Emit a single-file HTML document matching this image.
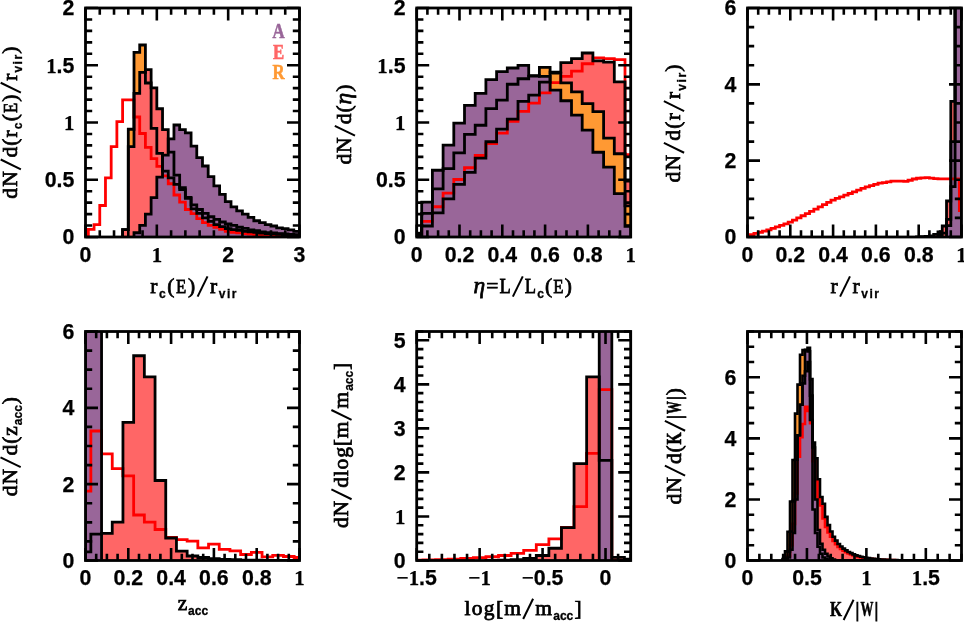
<!DOCTYPE html>
<html><head><meta charset="utf-8"><title>hist</title>
<style>html,body{margin:0;padding:0;background:#fff}svg{display:block;will-change:transform}
text{font-family:"Liberation Sans",sans-serif;fill:#000}
.num{font-family:"Liberation Sans",sans-serif;font-weight:bold;font-size:21.3px;stroke:#000;stroke-width:.25px}
.s1{font-family:"Liberation Serif",serif;font-weight:bold;font-size:20.8px}
.mn{font-family:"Liberation Serif",serif;font-weight:bold}
.ln{font-family:"Liberation Serif",serif;font-weight:normal;font-size:21.5px;stroke:#000;stroke-width:.75px}
.li{font-family:"Liberation Serif",serif;font-style:italic;font-weight:normal;font-size:21.5px;stroke:#000;stroke-width:.75px}
.lb{font-family:"Liberation Serif",serif;font-weight:bold;font-size:21.5px;stroke:#000;stroke-width:.6px}
.lsub{font-family:"Liberation Sans",sans-serif;font-weight:bold;font-size:12px;stroke:#000;stroke-width:.3px}
.sub{font-family:"Liberation Sans",sans-serif;font-weight:bold;font-size:12px}
.leg{font-family:"Liberation Serif",serif;font-weight:bold;font-size:21.5px;stroke-width:.6px}
</style></head><body>
<svg width="964" height="622" viewBox="0 0 964 622">
<rect width="964" height="622" fill="#fff"/>
<clipPath id="c00"><rect x="85.5" y="8" width="214" height="229"/></clipPath>
<path d="M122.59,237 L122.59,229.56 L128.29,229.56 L128.29,129.26 L134,129.26 L134,52.43 L139.71,52.43 L139.71,44.98 L145.41,44.98 L145.41,83 L151.12,83 L151.12,128.34 L156.83,128.34 L156.83,153.3 L162.53,153.3 L162.53,171.16 L168.24,171.16 L168.24,177.8 L173.95,177.8 L173.95,184.44 L179.65,184.44 L179.65,189.71 L185.36,189.71 L185.36,198.3 L191.07,198.3 L191.07,208.83 L196.77,208.83 L196.77,213.41 L202.48,213.41 L202.48,217.88 L208.18,217.88 L208.18,221.31 L213.89,221.31 L213.89,224.63 L219.6,224.63 L219.6,226.58 L225.3,226.58 L225.3,228.64 L231.01,228.64 L231.01,229.56 L236.72,229.56 L236.72,230.36 L242.42,230.36 L242.42,231.28 L248.13,231.28 L248.13,231.85 L253.84,231.85 L253.84,232.42 L259.54,232.42 L259.54,232.99 L265.25,232.99 L265.25,233.56 L270.95,233.56 L270.95,233.91 L276.66,233.91 L276.66,234.25 L282.37,234.25 L282.37,234.71 L288.07,234.71 L288.07,234.94 L293.78,234.94 L293.78,235.28 L299.49,235.28 L299.49,237 Z" fill="#ff9933" stroke="none" clip-path="url(#c00)"/>
<path d="M122.59,237 L122.59,229.56 L128.29,229.56 L128.29,146.66 L134,146.66 L134,93.3 L139.71,93.3 L139.71,72.46 L145.41,72.46 L145.41,69.6 L151.12,69.6 L151.12,87.81 L156.83,87.81 L156.83,108.76 L162.53,108.76 L162.53,129.6 L168.24,129.6 L168.24,152.04 L173.95,152.04 L173.95,175.17 L179.65,175.17 L179.65,187.76 L185.36,187.76 L185.36,197.5 L191.07,197.5 L191.07,204.94 L196.77,204.94 L196.77,209.52 L202.48,209.52 L202.48,213.41 L208.18,213.41 L208.18,216.73 L213.89,216.73 L213.89,219.37 L219.6,219.37 L219.6,222 L225.3,222 L225.3,223.95 L231.01,223.95 L231.01,225.32 L236.72,225.32 L236.72,227.27 L242.42,227.27 L242.42,228.3 L248.13,228.3 L248.13,229.9 L253.84,229.9 L253.84,230.59 L259.54,230.59 L259.54,231.85 L265.25,231.85 L265.25,232.53 L270.95,232.53 L270.95,232.99 L276.66,232.99 L276.66,233.56 L282.37,233.56 L282.37,234.02 L288.07,234.02 L288.07,234.48 L293.78,234.48 L293.78,234.71 L299.49,234.71 L299.49,237 Z" fill="#ff6666" stroke="none" clip-path="url(#c00)"/>
<path d="M134,237 L134,232.76 L139.71,232.76 L139.71,225.32 L145.41,225.32 L145.41,214.1 L151.12,214.1 L151.12,197.61 L156.83,197.61 L156.83,177.12 L162.53,177.12 L162.53,155.13 L168.24,155.13 L168.24,138.87 L173.95,138.87 L173.95,125.02 L179.65,125.02 L179.65,129.6 L185.36,129.6 L185.36,132.92 L191.07,132.92 L191.07,146.2 L196.77,146.2 L196.77,157.65 L202.48,157.65 L202.48,166.01 L208.18,166.01 L208.18,176.66 L213.89,176.66 L213.89,185.82 L219.6,185.82 L219.6,194.41 L225.3,194.41 L225.3,201.62 L231.01,201.62 L231.01,206.89 L236.72,206.89 L236.72,210.78 L242.42,210.78 L242.42,214.1 L248.13,214.1 L248.13,217.42 L253.84,217.42 L253.84,220.74 L259.54,220.74 L259.54,222.69 L265.25,222.69 L265.25,224.63 L270.95,224.63 L270.95,226.01 L276.66,226.01 L276.66,227.95 L282.37,227.95 L282.37,228.64 L288.07,228.64 L288.07,229.9 L293.78,229.9 L293.78,231.28 L299.49,231.28 L299.49,237 Z" fill="#996699" stroke="none" clip-path="url(#c00)"/>
<path d="M88.35,237 L88.35,229.33 L94.06,229.33 L94.06,224.63 L99.76,224.63 L99.76,205.51 L105.47,205.51 L105.47,177.8 L111.18,177.8 L111.18,146.66 L116.88,146.66 L116.88,121.7 L122.59,121.7 L122.59,99.94 L128.29,99.94 L128.29,99.94 L134,99.94 L134,117 L139.71,117 L139.71,133.49 L145.41,133.49 L145.41,147.35 L151.12,147.35 L151.12,158.57 L156.83,158.57 L156.83,166.47 L162.53,166.47 L162.53,175.86 L168.24,175.86 L168.24,183.76 L173.95,183.76 L173.95,194.98 L179.65,194.98 L179.65,202.19 L185.36,202.19 L185.36,209.52 L191.07,209.52 L191.07,213.53 L196.77,213.53 L196.77,218.68 L202.48,218.68 L202.48,222.69 L208.18,222.69 L208.18,225.32 L213.89,225.32 L213.89,227.27 L219.6,227.27 L219.6,229.33 L225.3,229.33 L225.3,231.28 L231.01,231.28 L231.01,232.31 L236.72,232.31 L236.72,232.88 L242.42,232.88 L242.42,233.56 L248.13,233.56 L248.13,234.02 L253.84,234.02 L253.84,234.71 L259.54,234.71 L259.54,235.05 L265.25,235.05 L265.25,235.4 L270.95,235.4 L270.95,235.63 L276.66,235.63 L276.66,235.85 L282.37,235.85 L282.37,235.85 L288.07,235.85 L288.07,235.85 L293.78,235.85 L293.78,235.85 L299.49,235.85 L299.49,237" fill="none" stroke="#ff0000" stroke-width="2.8" stroke-linejoin="miter" clip-path="url(#c00)"/>
<path d="M122.59,237 L122.59,229.56 L128.29,229.56 L128.29,129.26 L134,129.26 L134,52.43 L139.71,52.43 L139.71,44.98 L145.41,44.98 L145.41,83 L151.12,83 L151.12,128.34 L156.83,128.34 L156.83,153.3 L162.53,153.3 L162.53,171.16 L168.24,171.16 L168.24,177.8 L173.95,177.8 L173.95,184.44 L179.65,184.44 L179.65,189.71 L185.36,189.71 L185.36,198.3 L191.07,198.3 L191.07,208.83 L196.77,208.83 L196.77,213.41 L202.48,213.41 L202.48,217.88 L208.18,217.88 L208.18,221.31 L213.89,221.31 L213.89,224.63 L219.6,224.63 L219.6,226.58 L225.3,226.58 L225.3,228.64 L231.01,228.64 L231.01,229.56 L236.72,229.56 L236.72,230.36 L242.42,230.36 L242.42,231.28 L248.13,231.28 L248.13,231.85 L253.84,231.85 L253.84,232.42 L259.54,232.42 L259.54,232.99 L265.25,232.99 L265.25,233.56 L270.95,233.56 L270.95,233.91 L276.66,233.91 L276.66,234.25 L282.37,234.25 L282.37,234.71 L288.07,234.71 L288.07,234.94 L293.78,234.94 L293.78,235.28 L299.49,235.28 L299.49,237" fill="none" stroke="#000" stroke-width="2.8" stroke-linejoin="miter" clip-path="url(#c00)"/>
<path d="M122.59,237 L122.59,229.56 L128.29,229.56 L128.29,146.66 L134,146.66 L134,93.3 L139.71,93.3 L139.71,72.46 L145.41,72.46 L145.41,69.6 L151.12,69.6 L151.12,87.81 L156.83,87.81 L156.83,108.76 L162.53,108.76 L162.53,129.6 L168.24,129.6 L168.24,152.04 L173.95,152.04 L173.95,175.17 L179.65,175.17 L179.65,187.76 L185.36,187.76 L185.36,197.5 L191.07,197.5 L191.07,204.94 L196.77,204.94 L196.77,209.52 L202.48,209.52 L202.48,213.41 L208.18,213.41 L208.18,216.73 L213.89,216.73 L213.89,219.37 L219.6,219.37 L219.6,222 L225.3,222 L225.3,223.95 L231.01,223.95 L231.01,225.32 L236.72,225.32 L236.72,227.27 L242.42,227.27 L242.42,228.3 L248.13,228.3 L248.13,229.9 L253.84,229.9 L253.84,230.59 L259.54,230.59 L259.54,231.85 L265.25,231.85 L265.25,232.53 L270.95,232.53 L270.95,232.99 L276.66,232.99 L276.66,233.56 L282.37,233.56 L282.37,234.02 L288.07,234.02 L288.07,234.48 L293.78,234.48 L293.78,234.71 L299.49,234.71 L299.49,237" fill="none" stroke="#000" stroke-width="2.8" stroke-linejoin="miter" clip-path="url(#c00)"/>
<path d="M134,237 L134,232.76 L139.71,232.76 L139.71,225.32 L145.41,225.32 L145.41,214.1 L151.12,214.1 L151.12,197.61 L156.83,197.61 L156.83,177.12 L162.53,177.12 L162.53,155.13 L168.24,155.13 L168.24,138.87 L173.95,138.87 L173.95,125.02 L179.65,125.02 L179.65,129.6 L185.36,129.6 L185.36,132.92 L191.07,132.92 L191.07,146.2 L196.77,146.2 L196.77,157.65 L202.48,157.65 L202.48,166.01 L208.18,166.01 L208.18,176.66 L213.89,176.66 L213.89,185.82 L219.6,185.82 L219.6,194.41 L225.3,194.41 L225.3,201.62 L231.01,201.62 L231.01,206.89 L236.72,206.89 L236.72,210.78 L242.42,210.78 L242.42,214.1 L248.13,214.1 L248.13,217.42 L253.84,217.42 L253.84,220.74 L259.54,220.74 L259.54,222.69 L265.25,222.69 L265.25,224.63 L270.95,224.63 L270.95,226.01 L276.66,226.01 L276.66,227.95 L282.37,227.95 L282.37,228.64 L288.07,228.64 L288.07,229.9 L293.78,229.9 L293.78,231.28 L299.49,231.28 L299.49,237" fill="none" stroke="#000" stroke-width="2.8" stroke-linejoin="miter" clip-path="url(#c00)"/>
<path d="M85.5,237 v-6.7 M85.5,8 v6.7 M99.77,237 v-6.7 M99.77,8 v6.7 M114.03,237 v-6.7 M114.03,8 v6.7 M128.3,237 v-6.7 M128.3,8 v6.7 M142.57,237 v-6.7 M142.57,8 v6.7 M156.83,237 v-6.7 M156.83,8 v6.7 M171.1,237 v-6.7 M171.1,8 v6.7 M185.37,237 v-6.7 M185.37,8 v6.7 M199.63,237 v-6.7 M199.63,8 v6.7 M213.9,237 v-6.7 M213.9,8 v6.7 M228.17,237 v-6.7 M228.17,8 v6.7 M242.43,237 v-6.7 M242.43,8 v6.7 M256.7,237 v-6.7 M256.7,8 v6.7 M270.97,237 v-6.7 M270.97,8 v6.7 M285.23,237 v-6.7 M285.23,8 v6.7 M299.5,237 v-6.7 M299.5,8 v6.7 M85.5,237 v-12.5 M85.5,8 v12.5 M156.83,237 v-12.5 M156.83,8 v12.5 M228.17,237 v-12.5 M228.17,8 v12.5 M299.5,237 v-12.5 M299.5,8 v12.5 M85.5,237 h6.7 M299.5,237 h-6.7 M85.5,225.55 h6.7 M299.5,225.55 h-6.7 M85.5,214.1 h6.7 M299.5,214.1 h-6.7 M85.5,202.65 h6.7 M299.5,202.65 h-6.7 M85.5,191.2 h6.7 M299.5,191.2 h-6.7 M85.5,179.75 h6.7 M299.5,179.75 h-6.7 M85.5,168.3 h6.7 M299.5,168.3 h-6.7 M85.5,156.85 h6.7 M299.5,156.85 h-6.7 M85.5,145.4 h6.7 M299.5,145.4 h-6.7 M85.5,133.95 h6.7 M299.5,133.95 h-6.7 M85.5,122.5 h6.7 M299.5,122.5 h-6.7 M85.5,111.05 h6.7 M299.5,111.05 h-6.7 M85.5,99.6 h6.7 M299.5,99.6 h-6.7 M85.5,88.15 h6.7 M299.5,88.15 h-6.7 M85.5,76.7 h6.7 M299.5,76.7 h-6.7 M85.5,65.25 h6.7 M299.5,65.25 h-6.7 M85.5,53.8 h6.7 M299.5,53.8 h-6.7 M85.5,42.35 h6.7 M299.5,42.35 h-6.7 M85.5,30.9 h6.7 M299.5,30.9 h-6.7 M85.5,19.45 h6.7 M299.5,19.45 h-6.7 M85.5,8 h6.7 M299.5,8 h-6.7 M85.5,237 h12.5 M299.5,237 h-12.5 M85.5,179.75 h12.5 M299.5,179.75 h-12.5 M85.5,122.5 h12.5 M299.5,122.5 h-12.5 M85.5,65.25 h12.5 M299.5,65.25 h-12.5 M85.5,8 h12.5 M299.5,8 h-12.5" stroke="#000" stroke-width="2.6" fill="none"/>
<rect x="85.5" y="8" width="214" height="229" fill="none" stroke="#000" stroke-width="2.8"/>
<text x="85.5" y="261.8" text-anchor="middle" class="num">0</text>
<text x="156.83" y="261.8" text-anchor="middle" class="num"><tspan class="s1">1</tspan></text>
<text x="228.17" y="261.8" text-anchor="middle" class="num">2</text>
<text x="299.5" y="261.8" text-anchor="middle" class="num">3</text>
<text x="74.3" y="244.4" text-anchor="end" class="num">0</text>
<text x="74.3" y="187.15" text-anchor="end" class="num">0.5</text>
<text x="74.3" y="129.9" text-anchor="end" class="num"><tspan class="s1">1</tspan></text>
<text x="74.3" y="72.65" text-anchor="end" class="num"><tspan class="s1">1</tspan>.5</text>
<text x="74.3" y="15.4" text-anchor="end" class="num">2</text>
<clipPath id="c10"><rect x="416.7" y="8" width="214" height="229"/></clipPath>
<path d="M421.7,237 L421.7,226.01 L432.4,226.01 L432.4,212.84 L443.1,212.84 L443.1,198.87 L453.8,198.87 L453.8,184.44 L464.5,184.44 L464.5,172.31 L475.2,172.31 L475.2,158.22 L485.9,158.22 L485.9,141.74 L496.6,141.74 L496.6,129.14 L507.3,129.14 L507.3,119.18 L518,119.18 L518,101.32 L528.7,101.32 L528.7,95.13 L539.4,95.13 L539.4,82.2 L550.1,82.2 L550.1,72.12 L560.8,72.12 L560.8,62.62 L571.5,62.62 L571.5,58.61 L582.2,58.61 L582.2,53 L592.9,53 L592.9,60.78 L603.6,60.78 L603.6,62.16 L614.3,62.16 L614.3,81.97 L625,81.97 L625,181.01 L635.7,181.01 L635.7,237 Z" fill="#ff6666" stroke="none" clip-path="url(#c10)"/>
<path d="M421.7,237 L421.7,213.41 L432.4,213.41 L432.4,188.91 L443.1,188.91 L443.1,168.53 L453.8,168.53 L453.8,152.84 L464.5,152.84 L464.5,134.41 L475.2,134.41 L475.2,125.25 L485.9,125.25 L485.9,108.65 L496.6,108.65 L496.6,100.06 L507.3,100.06 L507.3,84.26 L518,84.26 L518,78.76 L528.7,78.76 L528.7,76.13 L539.4,76.13 L539.4,67.43 L550.1,67.43 L550.1,73.15 L560.8,73.15 L560.8,82.88 L571.5,82.88 L571.5,91.81 L582.2,91.81 L582.2,103.72 L592.9,103.72 L592.9,111.62 L603.6,111.62 L603.6,138.07 L614.3,138.07 L614.3,153.76 L625,153.76 L625,205.86 L635.7,205.86 L635.7,237 Z" fill="#ff9933" stroke="none" clip-path="url(#c10)"/>
<path d="M421.7,237 L421.7,202.19 L432.4,202.19 L432.4,170.25 L443.1,170.25 L443.1,145.06 L453.8,145.06 L453.8,123.19 L464.5,123.19 L464.5,105.33 L475.2,105.33 L475.2,93.42 L485.9,93.42 L485.9,79.56 L496.6,79.56 L496.6,71.66 L507.3,71.66 L507.3,68 L518,68 L518,65.36 L528.7,65.36 L528.7,75.67 L539.4,75.67 L539.4,76.47 L550.1,76.47 L550.1,90.21 L560.8,90.21 L560.8,100.75 L571.5,100.75 L571.5,115.06 L582.2,115.06 L582.2,130.17 L592.9,130.17 L592.9,152.27 L603.6,152.27 L603.6,167.04 L614.3,167.04 L614.3,193.6 L625,193.6 L625,226.24 L635.7,226.24 L635.7,237 Z" fill="#996699" stroke="none" clip-path="url(#c10)"/>
<path d="M421.7,237 L421.7,221.31 L432.4,221.31 L432.4,206.77 L443.1,206.77 L443.1,193.03 L453.8,193.03 L453.8,179.52 L464.5,179.52 L464.5,167.73 L475.2,167.73 L475.2,155.48 L485.9,155.48 L485.9,143.57 L496.6,143.57 L496.6,133.15 L507.3,133.15 L507.3,121.24 L518,121.24 L518,111.28 L528.7,111.28 L528.7,103.03 L539.4,103.03 L539.4,92.84 L550.1,92.84 L550.1,82.65 L560.8,82.65 L560.8,76.47 L571.5,76.47 L571.5,71.2 L582.2,71.2 L582.2,63.76 L592.9,63.76 L592.9,57.81 L603.6,57.81 L603.6,58.72 L614.3,58.72 L614.3,59.53 L625,59.53 L625,154.56 L635.7,154.56 L635.7,237" fill="none" stroke="#ff0000" stroke-width="2.8" stroke-linejoin="miter" clip-path="url(#c10)"/>
<path d="M421.7,237 L421.7,226.01 L432.4,226.01 L432.4,212.84 L443.1,212.84 L443.1,198.87 L453.8,198.87 L453.8,184.44 L464.5,184.44 L464.5,172.31 L475.2,172.31 L475.2,158.22 L485.9,158.22 L485.9,141.74 L496.6,141.74 L496.6,129.14 L507.3,129.14 L507.3,119.18 L518,119.18 L518,101.32 L528.7,101.32 L528.7,95.13 L539.4,95.13 L539.4,82.2 L550.1,82.2 L550.1,72.12 L560.8,72.12 L560.8,62.62 L571.5,62.62 L571.5,58.61 L582.2,58.61 L582.2,53 L592.9,53 L592.9,60.78 L603.6,60.78 L603.6,62.16 L614.3,62.16 L614.3,81.97 L625,81.97 L625,181.01 L635.7,181.01 L635.7,237" fill="none" stroke="#000" stroke-width="2.8" stroke-linejoin="miter" clip-path="url(#c10)"/>
<path d="M421.7,237 L421.7,213.41 L432.4,213.41 L432.4,188.91 L443.1,188.91 L443.1,168.53 L453.8,168.53 L453.8,152.84 L464.5,152.84 L464.5,134.41 L475.2,134.41 L475.2,125.25 L485.9,125.25 L485.9,108.65 L496.6,108.65 L496.6,100.06 L507.3,100.06 L507.3,84.26 L518,84.26 L518,78.76 L528.7,78.76 L528.7,76.13 L539.4,76.13 L539.4,67.43 L550.1,67.43 L550.1,73.15 L560.8,73.15 L560.8,82.88 L571.5,82.88 L571.5,91.81 L582.2,91.81 L582.2,103.72 L592.9,103.72 L592.9,111.62 L603.6,111.62 L603.6,138.07 L614.3,138.07 L614.3,153.76 L625,153.76 L625,205.86 L635.7,205.86 L635.7,237" fill="none" stroke="#000" stroke-width="2.8" stroke-linejoin="miter" clip-path="url(#c10)"/>
<path d="M421.7,237 L421.7,202.19 L432.4,202.19 L432.4,170.25 L443.1,170.25 L443.1,145.06 L453.8,145.06 L453.8,123.19 L464.5,123.19 L464.5,105.33 L475.2,105.33 L475.2,93.42 L485.9,93.42 L485.9,79.56 L496.6,79.56 L496.6,71.66 L507.3,71.66 L507.3,68 L518,68 L518,65.36 L528.7,65.36 L528.7,75.67 L539.4,75.67 L539.4,76.47 L550.1,76.47 L550.1,90.21 L560.8,90.21 L560.8,100.75 L571.5,100.75 L571.5,115.06 L582.2,115.06 L582.2,130.17 L592.9,130.17 L592.9,152.27 L603.6,152.27 L603.6,167.04 L614.3,167.04 L614.3,193.6 L625,193.6 L625,226.24 L635.7,226.24 L635.7,237" fill="none" stroke="#000" stroke-width="2.8" stroke-linejoin="miter" clip-path="url(#c10)"/>
<rect x="417.5" y="231.8" width="4.2" height="5" fill="#000"/>
<path d="M416.7,237 v-6.7 M416.7,8 v6.7 M427.4,237 v-6.7 M427.4,8 v6.7 M438.1,237 v-6.7 M438.1,8 v6.7 M448.8,237 v-6.7 M448.8,8 v6.7 M459.5,237 v-6.7 M459.5,8 v6.7 M470.2,237 v-6.7 M470.2,8 v6.7 M480.9,237 v-6.7 M480.9,8 v6.7 M491.6,237 v-6.7 M491.6,8 v6.7 M502.3,237 v-6.7 M502.3,8 v6.7 M513,237 v-6.7 M513,8 v6.7 M523.7,237 v-6.7 M523.7,8 v6.7 M534.4,237 v-6.7 M534.4,8 v6.7 M545.1,237 v-6.7 M545.1,8 v6.7 M555.8,237 v-6.7 M555.8,8 v6.7 M566.5,237 v-6.7 M566.5,8 v6.7 M577.2,237 v-6.7 M577.2,8 v6.7 M587.9,237 v-6.7 M587.9,8 v6.7 M598.6,237 v-6.7 M598.6,8 v6.7 M609.3,237 v-6.7 M609.3,8 v6.7 M620,237 v-6.7 M620,8 v6.7 M630.7,237 v-6.7 M630.7,8 v6.7 M416.7,237 v-12.5 M416.7,8 v12.5 M459.5,237 v-12.5 M459.5,8 v12.5 M502.3,237 v-12.5 M502.3,8 v12.5 M545.1,237 v-12.5 M545.1,8 v12.5 M587.9,237 v-12.5 M587.9,8 v12.5 M630.7,237 v-12.5 M630.7,8 v12.5 M416.7,237 h6.7 M630.7,237 h-6.7 M416.7,225.55 h6.7 M630.7,225.55 h-6.7 M416.7,214.1 h6.7 M630.7,214.1 h-6.7 M416.7,202.65 h6.7 M630.7,202.65 h-6.7 M416.7,191.2 h6.7 M630.7,191.2 h-6.7 M416.7,179.75 h6.7 M630.7,179.75 h-6.7 M416.7,168.3 h6.7 M630.7,168.3 h-6.7 M416.7,156.85 h6.7 M630.7,156.85 h-6.7 M416.7,145.4 h6.7 M630.7,145.4 h-6.7 M416.7,133.95 h6.7 M630.7,133.95 h-6.7 M416.7,122.5 h6.7 M630.7,122.5 h-6.7 M416.7,111.05 h6.7 M630.7,111.05 h-6.7 M416.7,99.6 h6.7 M630.7,99.6 h-6.7 M416.7,88.15 h6.7 M630.7,88.15 h-6.7 M416.7,76.7 h6.7 M630.7,76.7 h-6.7 M416.7,65.25 h6.7 M630.7,65.25 h-6.7 M416.7,53.8 h6.7 M630.7,53.8 h-6.7 M416.7,42.35 h6.7 M630.7,42.35 h-6.7 M416.7,30.9 h6.7 M630.7,30.9 h-6.7 M416.7,19.45 h6.7 M630.7,19.45 h-6.7 M416.7,8 h6.7 M630.7,8 h-6.7 M416.7,237 h12.5 M630.7,237 h-12.5 M416.7,179.75 h12.5 M630.7,179.75 h-12.5 M416.7,122.5 h12.5 M630.7,122.5 h-12.5 M416.7,65.25 h12.5 M630.7,65.25 h-12.5 M416.7,8 h12.5 M630.7,8 h-12.5" stroke="#000" stroke-width="2.6" fill="none"/>
<rect x="416.7" y="8" width="214" height="229" fill="none" stroke="#000" stroke-width="2.8"/>
<text x="416.7" y="261.8" text-anchor="middle" class="num">0</text>
<text x="459.5" y="261.8" text-anchor="middle" class="num">0.2</text>
<text x="502.3" y="261.8" text-anchor="middle" class="num">0.4</text>
<text x="545.1" y="261.8" text-anchor="middle" class="num">0.6</text>
<text x="587.9" y="261.8" text-anchor="middle" class="num">0.8</text>
<text x="630.7" y="261.8" text-anchor="middle" class="num"><tspan class="s1">1</tspan></text>
<text x="405.5" y="244.4" text-anchor="end" class="num">0</text>
<text x="405.5" y="187.15" text-anchor="end" class="num">0.5</text>
<text x="405.5" y="129.9" text-anchor="end" class="num"><tspan class="s1">1</tspan></text>
<text x="405.5" y="72.65" text-anchor="end" class="num"><tspan class="s1">1</tspan>.5</text>
<text x="405.5" y="15.4" text-anchor="end" class="num">2</text>
<clipPath id="c20"><rect x="747.5" y="8" width="214" height="229"/></clipPath>
<path d="M916.56,237 L916.56,236.85 L920.84,236.85 L920.84,236.69 L925.12,236.69 L925.12,236.43 L929.4,236.43 L929.4,235.85 L933.68,235.85 L933.68,234.33 L937.96,234.33 L937.96,231.81 L942.24,231.81 L942.24,226.01 L946.52,226.01 L946.52,201.01 L950.8,201.01 L950.8,101.32 L955.08,101.32 L955.08,-68.33 L959.36,-68.33 L959.36,-68.33 L961.5,-68.33 L961.5,237 Z" fill="#ff6666" stroke="none" clip-path="url(#c20)"/>
<path d="M946.52,237 L946.52,225.55 L950.8,225.55 L950.8,141.58 L955.08,141.58 L955.08,-68.33 L959.36,-68.33 L959.36,-68.33 L961.5,-68.33 L961.5,237 Z" fill="#996699" stroke="none" clip-path="url(#c20)"/>
<path d="M747.5,237 L747.5,235.56 L749.64,235.56 L749.64,234.66 L753.92,234.66 L753.92,233.47 L758.2,233.47 L758.2,232.27 L762.48,232.27 L762.48,231.08 L766.76,231.08 L766.76,229.88 L771.04,229.88 L771.04,228.37 L775.32,228.37 L775.32,226.85 L779.6,226.85 L779.6,225.32 L783.88,225.32 L783.88,223.79 L788.16,223.79 L788.16,222.21 L792.44,222.21 L792.44,220.06 L796.72,220.06 L796.72,217.91 L801,217.91 L801,215.77 L805.28,215.77 L805.28,213.62 L809.56,213.62 L809.56,211.43 L813.84,211.43 L813.84,209.16 L818.12,209.16 L818.12,206.88 L822.4,206.88 L822.4,204.61 L826.68,204.61 L826.68,202.33 L830.96,202.33 L830.96,200.12 L835.24,200.12 L835.24,198.47 L839.52,198.47 L839.52,196.82 L843.8,196.82 L843.8,195.17 L848.08,195.17 L848.08,193.52 L852.36,193.52 L852.36,191.8 L856.64,191.8 L856.64,190.09 L860.92,190.09 L860.92,188.37 L865.2,188.37 L865.2,186.93 L869.48,186.93 L869.48,185.65 L873.76,185.65 L873.76,184.38 L878.04,184.38 L878.04,183.2 L882.32,183.2 L882.32,182.54 L886.6,182.54 L886.6,181.87 L890.88,181.87 L890.88,181.21 L895.16,181.21 L895.16,181.09 L899.44,181.09 L899.44,181.19 L903.72,181.19 L903.72,181.3 L908,181.3 L908,180.23 L912.28,180.23 L912.28,179.02 L916.56,179.02 L916.56,178.26 L920.84,178.26 L920.84,177.94 L925.12,177.94 L925.12,177.69 L929.4,177.69 L929.4,178.12 L933.68,178.12 L933.68,178.54 L937.96,178.54 L937.96,178.84 L942.24,178.84 L942.24,178.88 L946.52,178.88 L946.52,178.91 L950.8,178.91 L950.8,178.94 L955.08,178.94 L955.08,178.97 L959.36,178.97 L959.36,210.66 L961.5,210.66 L961.5,237" fill="none" stroke="#ff0000" stroke-width="2.8" stroke-linejoin="miter" clip-path="url(#c20)"/>
<path d="M916.56,237 L916.56,236.85 L920.84,236.85 L920.84,236.69 L925.12,236.69 L925.12,236.43 L929.4,236.43 L929.4,235.85 L933.68,235.85 L933.68,234.33 L937.96,234.33 L937.96,231.81 L942.24,231.81 L942.24,226.01 L946.52,226.01 L946.52,201.01 L950.8,201.01 L950.8,101.32 L955.08,101.32 L955.08,-68.33 L959.36,-68.33 L959.36,-68.33 L961.5,-68.33 L961.5,237" fill="none" stroke="#000" stroke-width="2.8" stroke-linejoin="miter" clip-path="url(#c20)"/>
<path d="M937.96,237 L937.96,236.24 L942.24,236.24 L942.24,233.18 L946.52,233.18 L946.52,219.44 L950.8,219.44 L950.8,186.7 L955.08,186.7 L955.08,-68.33 L959.36,-68.33 L959.36,-68.33 L961.5,-68.33 L961.5,237" fill="none" stroke="#000" stroke-width="2.8" stroke-linejoin="miter" clip-path="url(#c20)"/>
<path d="M946.52,237 L946.52,225.55 L950.8,225.55 L950.8,141.58 L955.08,141.58 L955.08,-68.33 L959.36,-68.33 L959.36,-68.33 L961.5,-68.33 L961.5,237" fill="none" stroke="#000" stroke-width="2.8" stroke-linejoin="miter" clip-path="url(#c20)"/>
<path d="M747.5,237 v-6.7 M747.5,8 v6.7 M758.2,237 v-6.7 M758.2,8 v6.7 M768.9,237 v-6.7 M768.9,8 v6.7 M779.6,237 v-6.7 M779.6,8 v6.7 M790.3,237 v-6.7 M790.3,8 v6.7 M801,237 v-6.7 M801,8 v6.7 M811.7,237 v-6.7 M811.7,8 v6.7 M822.4,237 v-6.7 M822.4,8 v6.7 M833.1,237 v-6.7 M833.1,8 v6.7 M843.8,237 v-6.7 M843.8,8 v6.7 M854.5,237 v-6.7 M854.5,8 v6.7 M865.2,237 v-6.7 M865.2,8 v6.7 M875.9,237 v-6.7 M875.9,8 v6.7 M886.6,237 v-6.7 M886.6,8 v6.7 M897.3,237 v-6.7 M897.3,8 v6.7 M908,237 v-6.7 M908,8 v6.7 M918.7,237 v-6.7 M918.7,8 v6.7 M929.4,237 v-6.7 M929.4,8 v6.7 M940.1,237 v-6.7 M940.1,8 v6.7 M950.8,237 v-6.7 M950.8,8 v6.7 M961.5,237 v-6.7 M961.5,8 v6.7 M747.5,237 v-12.5 M747.5,8 v12.5 M790.3,237 v-12.5 M790.3,8 v12.5 M833.1,237 v-12.5 M833.1,8 v12.5 M875.9,237 v-12.5 M875.9,8 v12.5 M918.7,237 v-12.5 M918.7,8 v12.5 M961.5,237 v-12.5 M961.5,8 v12.5 M747.5,237 h6.7 M961.5,237 h-6.7 M747.5,217.92 h6.7 M961.5,217.92 h-6.7 M747.5,198.83 h6.7 M961.5,198.83 h-6.7 M747.5,179.75 h6.7 M961.5,179.75 h-6.7 M747.5,160.67 h6.7 M961.5,160.67 h-6.7 M747.5,141.58 h6.7 M961.5,141.58 h-6.7 M747.5,122.5 h6.7 M961.5,122.5 h-6.7 M747.5,103.42 h6.7 M961.5,103.42 h-6.7 M747.5,84.33 h6.7 M961.5,84.33 h-6.7 M747.5,65.25 h6.7 M961.5,65.25 h-6.7 M747.5,46.17 h6.7 M961.5,46.17 h-6.7 M747.5,27.08 h6.7 M961.5,27.08 h-6.7 M747.5,8 h6.7 M961.5,8 h-6.7 M747.5,237 h12.5 M961.5,237 h-12.5 M747.5,160.67 h12.5 M961.5,160.67 h-12.5 M747.5,84.33 h12.5 M961.5,84.33 h-12.5 M747.5,8 h12.5 M961.5,8 h-12.5" stroke="#000" stroke-width="2.6" fill="none"/>
<rect x="747.5" y="8" width="214" height="229" fill="none" stroke="#000" stroke-width="2.8"/>
<text x="747.5" y="261.8" text-anchor="middle" class="num">0</text>
<text x="790.3" y="261.8" text-anchor="middle" class="num">0.2</text>
<text x="833.1" y="261.8" text-anchor="middle" class="num">0.4</text>
<text x="875.9" y="261.8" text-anchor="middle" class="num">0.6</text>
<text x="918.7" y="261.8" text-anchor="middle" class="num">0.8</text>
<text x="961.5" y="261.8" text-anchor="middle" class="num"><tspan class="s1">1</tspan></text>
<text x="736.3" y="244.4" text-anchor="end" class="num">0</text>
<text x="736.3" y="168.07" text-anchor="end" class="num">2</text>
<text x="736.3" y="91.73" text-anchor="end" class="num">4</text>
<text x="736.3" y="15.4" text-anchor="end" class="num">6</text>
<clipPath id="c01"><rect x="85.5" y="331.5" width="214" height="229"/></clipPath>
<path d="M85.5,560.5 L85.5,551.91 L90.85,551.91 L90.85,534.09 L101.55,534.09 L101.55,533.4 L112.25,533.4 L112.25,522.22 L122.95,522.22 L122.95,422.41 L133.65,422.41 L133.65,355.74 L144.35,355.74 L144.35,376.92 L155.05,376.92 L155.05,480.5 L165.75,480.5 L165.75,538.02 L176.45,538.02 L176.45,551.19 L187.15,551.19 L187.15,556 L197.85,556 L197.85,557.48 L208.55,557.48 L208.55,558.59 L219.25,558.59 L219.25,559.36 L229.95,559.36 L229.95,559.74 L240.65,559.74 L240.65,560.04 L251.35,560.04 L251.35,560.27 L262.05,560.27 L262.05,560.5 L272.75,560.5 L272.75,560.5 L283.45,560.5 L283.45,560.5 L294.15,560.5 L294.15,560.5 L299.5,560.5 L299.5,560.5 Z" fill="#ff6666" stroke="none" clip-path="url(#c01)"/>
<path d="M85.5,560.5 L85.5,255.17 L90.85,255.17 L90.85,255.17 L101.55,255.17 L101.55,560.5 Z" fill="#996699" stroke="none" clip-path="url(#c01)"/>
<path d="M85.5,560.5 L85.5,491.19 L90.85,491.19 L90.85,431 L101.55,431 L101.55,453.82 L112.25,453.82 L112.25,468.59 L122.95,468.59 L122.95,475.88 L133.65,475.88 L133.65,515.01 L144.35,515.01 L144.35,522.22 L155.05,522.22 L155.05,529.51 L165.75,529.51 L165.75,537.41 L176.45,537.41 L176.45,539.58 L187.15,539.58 L187.15,541.11 L197.85,541.11 L197.85,547.79 L208.55,547.79 L208.55,544.09 L219.25,544.09 L219.25,549.32 L229.95,549.32 L229.95,550.81 L240.65,550.81 L240.65,554.51 L251.35,554.51 L251.35,552.29 L262.05,552.29 L262.05,556.8 L272.75,556.8 L272.75,555.31 L283.45,555.31 L283.45,556.49 L294.15,556.49 L294.15,557.48 L299.5,557.48 L299.5,560.5" fill="none" stroke="#ff0000" stroke-width="2.8" stroke-linejoin="miter" clip-path="url(#c01)"/>
<path d="M85.5,560.5 L85.5,551.91 L90.85,551.91 L90.85,534.09 L101.55,534.09 L101.55,533.4 L112.25,533.4 L112.25,522.22 L122.95,522.22 L122.95,422.41 L133.65,422.41 L133.65,355.74 L144.35,355.74 L144.35,376.92 L155.05,376.92 L155.05,480.5 L165.75,480.5 L165.75,538.02 L176.45,538.02 L176.45,551.19 L187.15,551.19 L187.15,556 L197.85,556 L197.85,557.48 L208.55,557.48 L208.55,558.59 L219.25,558.59 L219.25,559.36 L229.95,559.36 L229.95,559.74 L240.65,559.74 L240.65,560.04 L251.35,560.04 L251.35,560.27 L262.05,560.27 L262.05,560.5 L272.75,560.5 L272.75,560.5 L283.45,560.5 L283.45,560.5 L294.15,560.5 L294.15,560.5 L299.5,560.5 L299.5,560.5" fill="none" stroke="#000" stroke-width="2.8" stroke-linejoin="miter" clip-path="url(#c01)"/>
<path d="M85.5,560.5 L85.5,255.17 L90.85,255.17 L90.85,255.17 L101.55,255.17 L101.55,560.5" fill="none" stroke="#000" stroke-width="2.8" stroke-linejoin="miter" clip-path="url(#c01)"/>
<path d="M85.5,560.5 v-6.7 M85.5,331.5 v6.7 M96.2,560.5 v-6.7 M96.2,331.5 v6.7 M106.9,560.5 v-6.7 M106.9,331.5 v6.7 M117.6,560.5 v-6.7 M117.6,331.5 v6.7 M128.3,560.5 v-6.7 M128.3,331.5 v6.7 M139,560.5 v-6.7 M139,331.5 v6.7 M149.7,560.5 v-6.7 M149.7,331.5 v6.7 M160.4,560.5 v-6.7 M160.4,331.5 v6.7 M171.1,560.5 v-6.7 M171.1,331.5 v6.7 M181.8,560.5 v-6.7 M181.8,331.5 v6.7 M192.5,560.5 v-6.7 M192.5,331.5 v6.7 M203.2,560.5 v-6.7 M203.2,331.5 v6.7 M213.9,560.5 v-6.7 M213.9,331.5 v6.7 M224.6,560.5 v-6.7 M224.6,331.5 v6.7 M235.3,560.5 v-6.7 M235.3,331.5 v6.7 M246,560.5 v-6.7 M246,331.5 v6.7 M256.7,560.5 v-6.7 M256.7,331.5 v6.7 M267.4,560.5 v-6.7 M267.4,331.5 v6.7 M278.1,560.5 v-6.7 M278.1,331.5 v6.7 M288.8,560.5 v-6.7 M288.8,331.5 v6.7 M299.5,560.5 v-6.7 M299.5,331.5 v6.7 M85.5,560.5 v-12.5 M85.5,331.5 v12.5 M128.3,560.5 v-12.5 M128.3,331.5 v12.5 M171.1,560.5 v-12.5 M171.1,331.5 v12.5 M213.9,560.5 v-12.5 M213.9,331.5 v12.5 M256.7,560.5 v-12.5 M256.7,331.5 v12.5 M299.5,560.5 v-12.5 M299.5,331.5 v12.5 M85.5,560.5 h6.7 M299.5,560.5 h-6.7 M85.5,541.42 h6.7 M299.5,541.42 h-6.7 M85.5,522.33 h6.7 M299.5,522.33 h-6.7 M85.5,503.25 h6.7 M299.5,503.25 h-6.7 M85.5,484.17 h6.7 M299.5,484.17 h-6.7 M85.5,465.08 h6.7 M299.5,465.08 h-6.7 M85.5,446 h6.7 M299.5,446 h-6.7 M85.5,426.92 h6.7 M299.5,426.92 h-6.7 M85.5,407.83 h6.7 M299.5,407.83 h-6.7 M85.5,388.75 h6.7 M299.5,388.75 h-6.7 M85.5,369.67 h6.7 M299.5,369.67 h-6.7 M85.5,350.58 h6.7 M299.5,350.58 h-6.7 M85.5,331.5 h6.7 M299.5,331.5 h-6.7 M85.5,560.5 h12.5 M299.5,560.5 h-12.5 M85.5,484.17 h12.5 M299.5,484.17 h-12.5 M85.5,407.83 h12.5 M299.5,407.83 h-12.5 M85.5,331.5 h12.5 M299.5,331.5 h-12.5" stroke="#000" stroke-width="2.6" fill="none"/>
<rect x="85.5" y="331.5" width="214" height="229" fill="none" stroke="#000" stroke-width="2.8"/>
<text x="85.5" y="585.3" text-anchor="middle" class="num">0</text>
<text x="128.3" y="585.3" text-anchor="middle" class="num">0.2</text>
<text x="171.1" y="585.3" text-anchor="middle" class="num">0.4</text>
<text x="213.9" y="585.3" text-anchor="middle" class="num">0.6</text>
<text x="256.7" y="585.3" text-anchor="middle" class="num">0.8</text>
<text x="299.5" y="585.3" text-anchor="middle" class="num"><tspan class="s1">1</tspan></text>
<text x="74.3" y="567.9" text-anchor="end" class="num">0</text>
<text x="74.3" y="491.57" text-anchor="end" class="num">2</text>
<text x="74.3" y="415.23" text-anchor="end" class="num">4</text>
<text x="74.3" y="338.9" text-anchor="end" class="num">6</text>
<clipPath id="c11"><rect x="416.7" y="331.5" width="214" height="229"/></clipPath>
<path d="M485.94,560.5 L485.94,560.32 L498.52,560.32 L498.52,560.06 L511.11,560.06 L511.11,559.62 L523.7,559.62 L523.7,558.43 L536.29,558.43 L536.29,555.52 L548.88,555.52 L548.88,548.26 L561.46,548.26 L561.46,527.6 L574.05,527.6 L574.05,463.7 L586.64,463.7 L586.64,376.82 L599.23,376.82 L599.23,460.4 L611.82,460.4 L611.82,557.42 L624.41,557.42 L624.41,559.18 L630.7,559.18 L630.7,560.5 Z" fill="#ff6666" stroke="none" clip-path="url(#c11)"/>
<path d="M599.23,560.5 L599.23,208.19 L611.82,208.19 L611.82,560.5 Z" fill="#996699" stroke="none" clip-path="url(#c11)"/>
<path d="M416.7,560.5 L416.7,560.15 L422.99,560.15 L422.99,559.97 L435.58,559.97 L435.58,559.62 L448.17,559.62 L448.17,559.18 L460.76,559.18 L460.76,558.52 L473.35,558.52 L473.35,557.64 L485.94,557.64 L485.94,556.76 L498.52,556.76 L498.52,555.52 L511.11,555.52 L511.11,553.32 L523.7,553.32 L523.7,550.42 L536.29,550.42 L536.29,544.6 L548.88,544.6 L548.88,538.83 L561.46,538.83 L561.46,527.47 L574.05,527.47 L574.05,506.6 L586.64,506.6 L586.64,453.44 L599.23,453.44 L599.23,389.72 L611.82,389.72 L611.82,560.5 L624.41,560.5 L624.41,560.5 L630.7,560.5 L630.7,560.5" fill="none" stroke="#ff0000" stroke-width="2.8" stroke-linejoin="miter" clip-path="url(#c11)"/>
<path d="M485.94,560.5 L485.94,560.32 L498.52,560.32 L498.52,560.06 L511.11,560.06 L511.11,559.62 L523.7,559.62 L523.7,558.43 L536.29,558.43 L536.29,555.52 L548.88,555.52 L548.88,548.26 L561.46,548.26 L561.46,527.6 L574.05,527.6 L574.05,463.7 L586.64,463.7 L586.64,376.82 L599.23,376.82 L599.23,460.4 L611.82,460.4 L611.82,557.42 L624.41,557.42 L624.41,559.18 L630.7,559.18 L630.7,560.5" fill="none" stroke="#000" stroke-width="2.8" stroke-linejoin="miter" clip-path="url(#c11)"/>
<path d="M599.23,560.5 L599.23,208.19 L611.82,208.19 L611.82,560.5" fill="none" stroke="#000" stroke-width="2.8" stroke-linejoin="miter" clip-path="url(#c11)"/>
<path d="M416.7,560.5 v-6.7 M416.7,331.5 v6.7 M429.29,560.5 v-6.7 M429.29,331.5 v6.7 M441.88,560.5 v-6.7 M441.88,331.5 v6.7 M454.46,560.5 v-6.7 M454.46,331.5 v6.7 M467.05,560.5 v-6.7 M467.05,331.5 v6.7 M479.64,560.5 v-6.7 M479.64,331.5 v6.7 M492.23,560.5 v-6.7 M492.23,331.5 v6.7 M504.82,560.5 v-6.7 M504.82,331.5 v6.7 M517.41,560.5 v-6.7 M517.41,331.5 v6.7 M529.99,560.5 v-6.7 M529.99,331.5 v6.7 M542.58,560.5 v-6.7 M542.58,331.5 v6.7 M555.17,560.5 v-6.7 M555.17,331.5 v6.7 M567.76,560.5 v-6.7 M567.76,331.5 v6.7 M580.35,560.5 v-6.7 M580.35,331.5 v6.7 M592.94,560.5 v-6.7 M592.94,331.5 v6.7 M605.52,560.5 v-6.7 M605.52,331.5 v6.7 M618.11,560.5 v-6.7 M618.11,331.5 v6.7 M630.7,560.5 v-6.7 M630.7,331.5 v6.7 M416.7,560.5 v-12.5 M416.7,331.5 v12.5 M479.64,560.5 v-12.5 M479.64,331.5 v12.5 M542.58,560.5 v-12.5 M542.58,331.5 v12.5 M605.52,560.5 v-12.5 M605.52,331.5 v12.5 M416.7,560.5 h6.7 M630.7,560.5 h-6.7 M416.7,551.69 h6.7 M630.7,551.69 h-6.7 M416.7,542.88 h6.7 M630.7,542.88 h-6.7 M416.7,534.08 h6.7 M630.7,534.08 h-6.7 M416.7,525.27 h6.7 M630.7,525.27 h-6.7 M416.7,516.46 h6.7 M630.7,516.46 h-6.7 M416.7,507.65 h6.7 M630.7,507.65 h-6.7 M416.7,498.85 h6.7 M630.7,498.85 h-6.7 M416.7,490.04 h6.7 M630.7,490.04 h-6.7 M416.7,481.23 h6.7 M630.7,481.23 h-6.7 M416.7,472.42 h6.7 M630.7,472.42 h-6.7 M416.7,463.62 h6.7 M630.7,463.62 h-6.7 M416.7,454.81 h6.7 M630.7,454.81 h-6.7 M416.7,446 h6.7 M630.7,446 h-6.7 M416.7,437.19 h6.7 M630.7,437.19 h-6.7 M416.7,428.38 h6.7 M630.7,428.38 h-6.7 M416.7,419.58 h6.7 M630.7,419.58 h-6.7 M416.7,410.77 h6.7 M630.7,410.77 h-6.7 M416.7,401.96 h6.7 M630.7,401.96 h-6.7 M416.7,393.15 h6.7 M630.7,393.15 h-6.7 M416.7,384.35 h6.7 M630.7,384.35 h-6.7 M416.7,375.54 h6.7 M630.7,375.54 h-6.7 M416.7,366.73 h6.7 M630.7,366.73 h-6.7 M416.7,357.92 h6.7 M630.7,357.92 h-6.7 M416.7,349.12 h6.7 M630.7,349.12 h-6.7 M416.7,340.31 h6.7 M630.7,340.31 h-6.7 M416.7,331.5 h6.7 M630.7,331.5 h-6.7 M416.7,560.5 h12.5 M630.7,560.5 h-12.5 M416.7,516.46 h12.5 M630.7,516.46 h-12.5 M416.7,472.42 h12.5 M630.7,472.42 h-12.5 M416.7,428.38 h12.5 M630.7,428.38 h-12.5 M416.7,384.35 h12.5 M630.7,384.35 h-12.5 M416.7,340.31 h12.5 M630.7,340.31 h-12.5" stroke="#000" stroke-width="2.6" fill="none"/>
<rect x="416.7" y="331.5" width="214" height="229" fill="none" stroke="#000" stroke-width="2.8"/>
<text x="416.7" y="585.3" text-anchor="middle" class="num"><tspan class="mn">−</tspan><tspan class="s1">1</tspan>.5</text>
<text x="479.64" y="585.3" text-anchor="middle" class="num"><tspan class="mn">−</tspan><tspan class="s1">1</tspan></text>
<text x="542.58" y="585.3" text-anchor="middle" class="num"><tspan class="mn">−</tspan>0.5</text>
<text x="605.52" y="585.3" text-anchor="middle" class="num">0</text>
<text x="405.5" y="567.9" text-anchor="end" class="num">0</text>
<text x="405.5" y="523.86" text-anchor="end" class="num"><tspan class="s1">1</tspan></text>
<text x="405.5" y="479.82" text-anchor="end" class="num">2</text>
<text x="405.5" y="435.78" text-anchor="end" class="num">3</text>
<text x="405.5" y="391.75" text-anchor="end" class="num">4</text>
<text x="405.5" y="347.71" text-anchor="end" class="num">5</text>
<clipPath id="c21"><rect x="747.5" y="331.5" width="214" height="229"/></clipPath>
<path d="M782.5,560.5 L782.5,558.97 L785,558.97 L785,551.34 L787.5,551.34 L787.5,531.8 L790,531.8 L790,501.57 L792.5,501.57 L792.5,460.05 L795,460.05 L795,413.63 L797.5,413.63 L797.5,384.63 L800,384.63 L800,354.71 L802.5,354.71 L802.5,350.13 L805,350.13 L805,350.13 L807.5,350.13 L807.5,351.35 L810,351.35 L810,420.05 L812.5,420.05 L812.5,509.51 L815,509.51 L815,533.02 L817.5,533.02 L817.5,546.76 L820,546.76 L820,553.78 L822.5,553.78 L822.5,557.45 L825,557.45 L825,559.28 L827.5,559.28 L827.5,559.89 L830,559.89 L830,560.5 L832.5,560.5 L832.5,560.5 L835,560.5 L835,560.5 L837.5,560.5 L837.5,560.5 L840,560.5 L840,560.5 L842.5,560.5 L842.5,560.5 L845,560.5 L845,560.5 L847.5,560.5 L847.5,560.5 L850,560.5 L850,560.5 L852.5,560.5 L852.5,560.5 L855,560.5 L855,560.5 L857.5,560.5 L857.5,560.5 L860,560.5 L860,560.5 L862.5,560.5 L862.5,560.5 L865,560.5 L865,560.5 L867.5,560.5 L867.5,560.5 L870,560.5 L870,560.5 L872.5,560.5 L872.5,560.5 L875,560.5 L875,560.5 L877.5,560.5 L877.5,560.5 L880,560.5 L880,560.5 L882.5,560.5 L882.5,560.5 L885,560.5 L885,560.5 L887.5,560.5 L887.5,560.5 L890,560.5 L890,560.5 L892.5,560.5 L892.5,560.5 L895,560.5 L895,560.5 L897.5,560.5 L897.5,560.5 L900,560.5 L900,560.5 L902.5,560.5 L902.5,560.5 L905,560.5 L905,560.5 L907.5,560.5 L907.5,560.5 L910,560.5 L910,560.5 L912.5,560.5 L912.5,560.5 L915,560.5 L915,560.5 L917.5,560.5 L917.5,560.5 L920,560.5 L920,560.5 L922.5,560.5 L922.5,560.5 L925,560.5 L925,560.5 L927.5,560.5 L927.5,560.5 L930,560.5 L930,560.5 Z" fill="#ff9933" stroke="none" clip-path="url(#c21)"/>
<path d="M782.5,560.5 L782.5,560.5 L785,560.5 L785,558.97 L787.5,558.97 L787.5,551.34 L790,551.34 L790,531.49 L792.5,531.49 L792.5,500.96 L795,500.96 L795,459.74 L797.5,459.74 L797.5,435.31 L800,435.31 L800,404.78 L802.5,404.78 L802.5,383.41 L805,383.41 L805,371.19 L807.5,371.19 L807.5,362.03 L810,362.03 L810,395.62 L812.5,395.62 L812.5,442.64 L815,442.64 L815,458.21 L817.5,458.21 L817.5,479.28 L820,479.28 L820,496.99 L822.5,496.99 L822.5,503.71 L825,503.71 L825,516.84 L827.5,516.84 L827.5,525.08 L830,525.08 L830,531.49 L832.5,531.49 L832.5,536.68 L835,536.68 L835,540.65 L837.5,540.65 L837.5,544.01 L840,544.01 L840,546.45 L842.5,546.45 L842.5,548.59 L845,548.59 L845,550.42 L847.5,550.42 L847.5,551.95 L850,551.95 L850,553.17 L852.5,553.17 L852.5,554.39 L855,554.39 L855,555.31 L857.5,555.31 L857.5,556.07 L860,556.07 L860,556.68 L862.5,556.68 L862.5,557.29 L865,557.29 L865,557.75 L867.5,557.75 L867.5,558.12 L870,558.12 L870,558.48 L872.5,558.48 L872.5,558.79 L875,558.79 L875,559.03 L877.5,559.03 L877.5,559.28 L880,559.28 L880,559.46 L882.5,559.46 L882.5,559.65 L885,559.65 L885,559.77 L887.5,559.77 L887.5,559.89 L890,559.89 L890,559.98 L892.5,559.98 L892.5,560.07 L895,560.07 L895,560.13 L897.5,560.13 L897.5,560.19 L900,560.19 L900,560.26 L902.5,560.26 L902.5,560.32 L905,560.32 L905,560.5 L907.5,560.5 L907.5,560.5 L910,560.5 L910,560.5 L912.5,560.5 L912.5,560.5 L915,560.5 L915,560.5 L917.5,560.5 L917.5,560.5 L920,560.5 L920,560.5 L922.5,560.5 L922.5,560.5 L925,560.5 L925,560.5 L927.5,560.5 L927.5,560.5 L930,560.5 L930,560.5 Z" fill="#ff6666" stroke="none" clip-path="url(#c21)"/>
<path d="M782.5,560.5 L782.5,560.5 L785,560.5 L785,559.89 L787.5,559.89 L787.5,557.45 L790,557.45 L790,549.81 L792.5,549.81 L792.5,533.02 L795,533.02 L795,499.43 L797.5,499.43 L797.5,435.31 L800,435.31 L800,404.78 L802.5,404.78 L802.5,375.77 L805,375.77 L805,349.82 L807.5,349.82 L807.5,347.68 L810,347.68 L810,379.13 L812.5,379.13 L812.5,447.53 L815,447.53 L815,499.43 L817.5,499.43 L817.5,529.97 L820,529.97 L820,543.71 L822.5,543.71 L822.5,549.81 L825,549.81 L825,553.78 L827.5,553.78 L827.5,556.53 L830,556.53 L830,558.36 L832.5,558.36 L832.5,559.58 L835,559.58 L835,560.5 L837.5,560.5 L837.5,560.5 L840,560.5 L840,560.5 L842.5,560.5 L842.5,560.5 L845,560.5 L845,560.5 L847.5,560.5 L847.5,560.5 L850,560.5 L850,560.5 L852.5,560.5 L852.5,560.5 L855,560.5 L855,560.5 L857.5,560.5 L857.5,560.5 L860,560.5 L860,560.5 L862.5,560.5 L862.5,560.5 L865,560.5 L865,560.5 L867.5,560.5 L867.5,560.5 L870,560.5 L870,560.5 L872.5,560.5 L872.5,560.5 L875,560.5 L875,560.5 L877.5,560.5 L877.5,560.5 L880,560.5 L880,560.5 L882.5,560.5 L882.5,560.5 L885,560.5 L885,560.5 L887.5,560.5 L887.5,560.5 L890,560.5 L890,560.5 L892.5,560.5 L892.5,560.5 L895,560.5 L895,560.5 L897.5,560.5 L897.5,560.5 L900,560.5 L900,560.5 L902.5,560.5 L902.5,560.5 L905,560.5 L905,560.5 L907.5,560.5 L907.5,560.5 L910,560.5 L910,560.5 L912.5,560.5 L912.5,560.5 L915,560.5 L915,560.5 L917.5,560.5 L917.5,560.5 L920,560.5 L920,560.5 L922.5,560.5 L922.5,560.5 L925,560.5 L925,560.5 L927.5,560.5 L927.5,560.5 L930,560.5 L930,560.5 Z" fill="#996699" stroke="none" clip-path="url(#c21)"/>
<path d="M782.5,560.5 L782.5,560.5 L785,560.5 L785,559.58 L787.5,559.58 L787.5,555.92 L790,555.92 L790,545.23 L792.5,545.23 L792.5,523.86 L795,523.86 L795,493.33 L797.5,493.33 L797.5,456.69 L800,456.69 L800,437.15 L802.5,437.15 L802.5,424.02 L805,424.02 L805,406.92 L807.5,406.92 L807.5,410.89 L810,410.89 L810,423.1 L812.5,423.1 L812.5,461.27 L815,461.27 L815,480.81 L817.5,480.81 L817.5,499.13 L820,499.13 L820,505.54 L822.5,505.54 L822.5,518.36 L825,518.36 L825,526.91 L827.5,526.91 L827.5,532.41 L830,532.41 L830,536.71 L832.5,536.71 L832.5,540.97 L835,540.97 L835,544.23 L837.5,544.23 L837.5,546.98 L840,546.98 L840,548.98 L842.5,548.98 L842.5,550.74 L845,550.74 L845,552.24 L847.5,552.24 L847.5,553.49 L850,553.49 L850,554.49 L852.5,554.49 L852.5,555.49 L855,555.49 L855,556.24 L857.5,556.24 L857.5,556.87 L860,556.87 L860,557.37 L862.5,557.37 L862.5,557.87 L865,557.87 L865,558.25 L867.5,558.25 L867.5,558.55 L870,558.55 L870,558.85 L872.5,558.85 L872.5,559.1 L875,559.1 L875,559.3 L877.5,559.3 L877.5,559.5 L880,559.5 L880,559.65 L882.5,559.65 L882.5,559.8 L885,559.8 L885,559.9 L887.5,559.9 L887.5,560 L890,560 L890,560.07 L892.5,560.07 L892.5,560.15 L895,560.15 L895,560.2 L897.5,560.2 L897.5,560.25 L900,560.25 L900,560.3 L902.5,560.3 L902.5,560.35 L905,560.35 L905,560.5 L907.5,560.5 L907.5,560.5 L910,560.5 L910,560.5 L912.5,560.5 L912.5,560.5 L915,560.5 L915,560.5 L917.5,560.5 L917.5,560.5 L920,560.5 L920,560.5 L922.5,560.5 L922.5,560.5 L925,560.5 L925,560.5 L927.5,560.5 L927.5,560.5 L930,560.5 L930,560.5" fill="none" stroke="#ff0000" stroke-width="2.6" stroke-linejoin="miter" clip-path="url(#c21)"/>
<path d="M782.5,560.5 L782.5,558.97 L785,558.97 L785,551.34 L787.5,551.34 L787.5,531.8 L790,531.8 L790,501.57 L792.5,501.57 L792.5,460.05 L795,460.05 L795,413.63 L797.5,413.63 L797.5,384.63 L800,384.63 L800,354.71 L802.5,354.71 L802.5,350.13 L805,350.13 L805,350.13 L807.5,350.13 L807.5,351.35 L810,351.35 L810,420.05 L812.5,420.05 L812.5,509.51 L815,509.51 L815,533.02 L817.5,533.02 L817.5,546.76 L820,546.76 L820,553.78 L822.5,553.78 L822.5,557.45 L825,557.45 L825,559.28 L827.5,559.28 L827.5,559.89 L830,559.89 L830,560.5 L832.5,560.5 L832.5,560.5 L835,560.5 L835,560.5 L837.5,560.5 L837.5,560.5 L840,560.5 L840,560.5 L842.5,560.5 L842.5,560.5 L845,560.5 L845,560.5 L847.5,560.5 L847.5,560.5 L850,560.5 L850,560.5 L852.5,560.5 L852.5,560.5 L855,560.5 L855,560.5 L857.5,560.5 L857.5,560.5 L860,560.5 L860,560.5 L862.5,560.5 L862.5,560.5 L865,560.5 L865,560.5 L867.5,560.5 L867.5,560.5 L870,560.5 L870,560.5 L872.5,560.5 L872.5,560.5 L875,560.5 L875,560.5 L877.5,560.5 L877.5,560.5 L880,560.5 L880,560.5 L882.5,560.5 L882.5,560.5 L885,560.5 L885,560.5 L887.5,560.5 L887.5,560.5 L890,560.5 L890,560.5 L892.5,560.5 L892.5,560.5 L895,560.5 L895,560.5 L897.5,560.5 L897.5,560.5 L900,560.5 L900,560.5 L902.5,560.5 L902.5,560.5 L905,560.5 L905,560.5 L907.5,560.5 L907.5,560.5 L910,560.5 L910,560.5 L912.5,560.5 L912.5,560.5 L915,560.5 L915,560.5 L917.5,560.5 L917.5,560.5 L920,560.5 L920,560.5 L922.5,560.5 L922.5,560.5 L925,560.5 L925,560.5 L927.5,560.5 L927.5,560.5 L930,560.5 L930,560.5" fill="none" stroke="#000" stroke-width="2.6" stroke-linejoin="miter" clip-path="url(#c21)"/>
<path d="M782.5,560.5 L782.5,560.5 L785,560.5 L785,558.97 L787.5,558.97 L787.5,551.34 L790,551.34 L790,531.49 L792.5,531.49 L792.5,500.96 L795,500.96 L795,459.74 L797.5,459.74 L797.5,435.31 L800,435.31 L800,404.78 L802.5,404.78 L802.5,383.41 L805,383.41 L805,371.19 L807.5,371.19 L807.5,362.03 L810,362.03 L810,395.62 L812.5,395.62 L812.5,442.64 L815,442.64 L815,458.21 L817.5,458.21 L817.5,479.28 L820,479.28 L820,496.99 L822.5,496.99 L822.5,503.71 L825,503.71 L825,516.84 L827.5,516.84 L827.5,525.08 L830,525.08 L830,531.49 L832.5,531.49 L832.5,536.68 L835,536.68 L835,540.65 L837.5,540.65 L837.5,544.01 L840,544.01 L840,546.45 L842.5,546.45 L842.5,548.59 L845,548.59 L845,550.42 L847.5,550.42 L847.5,551.95 L850,551.95 L850,553.17 L852.5,553.17 L852.5,554.39 L855,554.39 L855,555.31 L857.5,555.31 L857.5,556.07 L860,556.07 L860,556.68 L862.5,556.68 L862.5,557.29 L865,557.29 L865,557.75 L867.5,557.75 L867.5,558.12 L870,558.12 L870,558.48 L872.5,558.48 L872.5,558.79 L875,558.79 L875,559.03 L877.5,559.03 L877.5,559.28 L880,559.28 L880,559.46 L882.5,559.46 L882.5,559.65 L885,559.65 L885,559.77 L887.5,559.77 L887.5,559.89 L890,559.89 L890,559.98 L892.5,559.98 L892.5,560.07 L895,560.07 L895,560.13 L897.5,560.13 L897.5,560.19 L900,560.19 L900,560.26 L902.5,560.26 L902.5,560.32 L905,560.32 L905,560.5 L907.5,560.5 L907.5,560.5 L910,560.5 L910,560.5 L912.5,560.5 L912.5,560.5 L915,560.5 L915,560.5 L917.5,560.5 L917.5,560.5 L920,560.5 L920,560.5 L922.5,560.5 L922.5,560.5 L925,560.5 L925,560.5 L927.5,560.5 L927.5,560.5 L930,560.5 L930,560.5" fill="none" stroke="#000" stroke-width="2.6" stroke-linejoin="miter" clip-path="url(#c21)"/>
<path d="M782.5,560.5 L782.5,560.5 L785,560.5 L785,559.89 L787.5,559.89 L787.5,557.45 L790,557.45 L790,549.81 L792.5,549.81 L792.5,533.02 L795,533.02 L795,499.43 L797.5,499.43 L797.5,435.31 L800,435.31 L800,404.78 L802.5,404.78 L802.5,375.77 L805,375.77 L805,349.82 L807.5,349.82 L807.5,347.68 L810,347.68 L810,379.13 L812.5,379.13 L812.5,447.53 L815,447.53 L815,499.43 L817.5,499.43 L817.5,529.97 L820,529.97 L820,543.71 L822.5,543.71 L822.5,549.81 L825,549.81 L825,553.78 L827.5,553.78 L827.5,556.53 L830,556.53 L830,558.36 L832.5,558.36 L832.5,559.58 L835,559.58 L835,560.5 L837.5,560.5 L837.5,560.5 L840,560.5 L840,560.5 L842.5,560.5 L842.5,560.5 L845,560.5 L845,560.5 L847.5,560.5 L847.5,560.5 L850,560.5 L850,560.5 L852.5,560.5 L852.5,560.5 L855,560.5 L855,560.5 L857.5,560.5 L857.5,560.5 L860,560.5 L860,560.5 L862.5,560.5 L862.5,560.5 L865,560.5 L865,560.5 L867.5,560.5 L867.5,560.5 L870,560.5 L870,560.5 L872.5,560.5 L872.5,560.5 L875,560.5 L875,560.5 L877.5,560.5 L877.5,560.5 L880,560.5 L880,560.5 L882.5,560.5 L882.5,560.5 L885,560.5 L885,560.5 L887.5,560.5 L887.5,560.5 L890,560.5 L890,560.5 L892.5,560.5 L892.5,560.5 L895,560.5 L895,560.5 L897.5,560.5 L897.5,560.5 L900,560.5 L900,560.5 L902.5,560.5 L902.5,560.5 L905,560.5 L905,560.5 L907.5,560.5 L907.5,560.5 L910,560.5 L910,560.5 L912.5,560.5 L912.5,560.5 L915,560.5 L915,560.5 L917.5,560.5 L917.5,560.5 L920,560.5 L920,560.5 L922.5,560.5 L922.5,560.5 L925,560.5 L925,560.5 L927.5,560.5 L927.5,560.5 L930,560.5 L930,560.5" fill="none" stroke="#000" stroke-width="2.6" stroke-linejoin="miter" clip-path="url(#c21)"/>
<path d="M747.5,560.5 v-6.7 M747.5,331.5 v6.7 M759.39,560.5 v-6.7 M759.39,331.5 v6.7 M771.28,560.5 v-6.7 M771.28,331.5 v6.7 M783.17,560.5 v-6.7 M783.17,331.5 v6.7 M795.06,560.5 v-6.7 M795.06,331.5 v6.7 M806.94,560.5 v-6.7 M806.94,331.5 v6.7 M818.83,560.5 v-6.7 M818.83,331.5 v6.7 M830.72,560.5 v-6.7 M830.72,331.5 v6.7 M842.61,560.5 v-6.7 M842.61,331.5 v6.7 M854.5,560.5 v-6.7 M854.5,331.5 v6.7 M866.39,560.5 v-6.7 M866.39,331.5 v6.7 M878.28,560.5 v-6.7 M878.28,331.5 v6.7 M890.17,560.5 v-6.7 M890.17,331.5 v6.7 M902.06,560.5 v-6.7 M902.06,331.5 v6.7 M913.94,560.5 v-6.7 M913.94,331.5 v6.7 M925.83,560.5 v-6.7 M925.83,331.5 v6.7 M937.72,560.5 v-6.7 M937.72,331.5 v6.7 M949.61,560.5 v-6.7 M949.61,331.5 v6.7 M961.5,560.5 v-6.7 M961.5,331.5 v6.7 M747.5,560.5 v-12.5 M747.5,331.5 v12.5 M806.94,560.5 v-12.5 M806.94,331.5 v12.5 M866.39,560.5 v-12.5 M866.39,331.5 v12.5 M925.83,560.5 v-12.5 M925.83,331.5 v12.5 M747.5,560.5 h6.7 M961.5,560.5 h-6.7 M747.5,545.23 h6.7 M961.5,545.23 h-6.7 M747.5,529.97 h6.7 M961.5,529.97 h-6.7 M747.5,514.7 h6.7 M961.5,514.7 h-6.7 M747.5,499.43 h6.7 M961.5,499.43 h-6.7 M747.5,484.17 h6.7 M961.5,484.17 h-6.7 M747.5,468.9 h6.7 M961.5,468.9 h-6.7 M747.5,453.63 h6.7 M961.5,453.63 h-6.7 M747.5,438.37 h6.7 M961.5,438.37 h-6.7 M747.5,423.1 h6.7 M961.5,423.1 h-6.7 M747.5,407.83 h6.7 M961.5,407.83 h-6.7 M747.5,392.57 h6.7 M961.5,392.57 h-6.7 M747.5,377.3 h6.7 M961.5,377.3 h-6.7 M747.5,362.03 h6.7 M961.5,362.03 h-6.7 M747.5,346.77 h6.7 M961.5,346.77 h-6.7 M747.5,331.5 h6.7 M961.5,331.5 h-6.7 M747.5,560.5 h12.5 M961.5,560.5 h-12.5 M747.5,499.43 h12.5 M961.5,499.43 h-12.5 M747.5,438.37 h12.5 M961.5,438.37 h-12.5 M747.5,377.3 h12.5 M961.5,377.3 h-12.5" stroke="#000" stroke-width="2.6" fill="none"/>
<rect x="747.5" y="331.5" width="214" height="229" fill="none" stroke="#000" stroke-width="2.8"/>
<text x="747.5" y="585.3" text-anchor="middle" class="num">0</text>
<text x="806.94" y="585.3" text-anchor="middle" class="num">0.5</text>
<text x="866.39" y="585.3" text-anchor="middle" class="num"><tspan class="s1">1</tspan></text>
<text x="925.83" y="585.3" text-anchor="middle" class="num"><tspan class="s1">1</tspan>.5</text>
<text x="736.3" y="567.9" text-anchor="end" class="num">0</text>
<text x="736.3" y="506.83" text-anchor="end" class="num">2</text>
<text x="736.3" y="445.77" text-anchor="end" class="num">4</text>
<text x="736.3" y="384.7" text-anchor="end" class="num">6</text>
<text transform="translate(278.6,37.7) scale(0.78,1)" x="0" y="0" text-anchor="middle" class="leg" style="fill:#996699;stroke:#996699">A</text>
<text transform="translate(278.6,58.7) scale(0.78,1)" x="0" y="0" text-anchor="middle" class="leg" style="fill:#ff6666;stroke:#ff6666">E</text>
<text transform="translate(278.6,79.3) scale(0.78,1)" x="0" y="0" text-anchor="middle" class="leg" style="fill:#ff9933;stroke:#ff9933">R</text>
<g transform="translate(150.15,292.6)"><text class="ln" x="0" y="0">r</text><text class="lsub" x="8.81" y="5.4">c</text><text class="ln" x="17.14" y="0">(</text><text class="ln" style="font-size:19.5px" transform="translate(25.95,0) scale(0.86,1)">E</text><text class="ln" x="37.85" y="0">)</text><line x1="47.46" y1="4" x2="57.36" y2="-16.2" stroke="#000" stroke-width="2"/><text class="ln" x="59.81" y="0">r</text><text class="lsub" x="68.62" y="5.4">v</text><text class="lsub" x="76.8" y="5.4">i</text><text class="lsub" x="81.63" y="5.4">r</text></g>
<g transform="translate(473.5,292.6)"><text class="li" style="font-size:23.5px" x="0" y="0">η</text><text class="ln" x="12.82" y="0">=</text><text class="ln" transform="translate(26.11,0) scale(0.86,1)">L</text><line x1="39.36" y1="4" x2="49.26" y2="-16.2" stroke="#000" stroke-width="2"/><text class="ln" transform="translate(51.22,0) scale(0.86,1)">L</text><text class="lsub" x="63.68" y="5.4">c</text><text class="ln" x="71.51" y="0">(</text><text class="ln" style="font-size:19.5px" transform="translate(79.84,0) scale(0.86,1)">E</text><text class="ln" x="91.24" y="0">)</text></g>
<g transform="translate(830.45,292.6)"><text class="ln" x="0" y="0">r</text><line x1="9.63" y1="4" x2="19.53" y2="-16.2" stroke="#000" stroke-width="2"/><text class="ln" x="21.99" y="0">r</text><text class="lsub" x="30.82" y="5.4">v</text><text class="lsub" x="39" y="5.4">i</text><text class="lsub" x="43.83" y="5.4">r</text></g>
<g transform="translate(177.85,610)"><text class="ln" x="0" y="0">z</text><text class="lsub" x="10.28" y="5.4">a</text><text class="lsub" x="16.95" y="5.4">c</text><text class="lsub" x="23.63" y="5.4">c</text></g>
<g transform="translate(464.5,615)"><text class="ln" x="0" y="0">l</text><text class="ln" x="7.28" y="0">o</text><text class="ln" x="19.33" y="0">g</text><text class="ln" x="31.39" y="0">[</text><text class="ln" x="39.85" y="0">m</text><line x1="58.68" y1="4" x2="68.58" y2="-16.2" stroke="#000" stroke-width="2"/><text class="ln" x="70.69" y="0">m</text><text class="lsub" x="88.71" y="5.4">a</text><text class="lsub" x="95.39" y="5.4">c</text><text class="lsub" x="102.06" y="5.4">c</text><text class="ln" x="110.04" y="0">]</text></g>
<g transform="translate(829.95,616)"><text class="lb" transform="translate(0,0) scale(0.72,1)">K</text><line x1="13.7" y1="4" x2="23.6" y2="-16.2" stroke="#000" stroke-width="2"/><text class="ln" x="25.27" y="0">|</text><text class="lb" transform="translate(30.43,0) scale(0.6,1)">W</text><text class="ln" x="44.2" y="0">|</text></g>
<g transform="translate(16.9,198.7) rotate(-90)"><text class="ln" x="0" y="0">d</text><text class="ln" x="11.87" y="0">N</text><line x1="29.31" y1="4" x2="39.21" y2="-16.2" stroke="#000" stroke-width="2"/><text class="ln" x="41.13" y="0">d</text><text class="ln" x="52.99" y="0">(</text><text class="ln" x="61.27" y="0">r</text><text class="lsub" x="69.55" y="5.4">c</text><text class="ln" x="77.34" y="0">(</text><text class="ln" style="font-size:19.5px" transform="translate(85.61,0) scale(0.86,1)">E</text><text class="ln" x="96.98" y="0">)</text><line x1="106.05" y1="4" x2="115.95" y2="-16.2" stroke="#000" stroke-width="2"/><text class="ln" x="117.87" y="0">r</text><text class="lsub" x="126.15" y="5.4">v</text><text class="lsub" x="134.32" y="5.4">i</text><text class="lsub" x="139.15" y="5.4">r</text><text class="ln" x="144.94" y="0">)</text></g>
<g transform="translate(351,164.6) rotate(-90)"><text class="ln" x="0" y="0">d</text><text class="ln" x="11.65" y="0">N</text><line x1="28.88" y1="4" x2="38.78" y2="-16.2" stroke="#000" stroke-width="2"/><text class="ln" x="40.47" y="0">d</text><text class="ln" x="52.12" y="0">(</text><text class="li" style="font-size:23.5px" x="60.18" y="0">η</text><text class="ln" x="72.74" y="0">)</text></g>
<g transform="translate(680.1,182.4) rotate(-90)"><text class="ln" x="0" y="0">d</text><text class="ln" x="12.03" y="0">N</text><line x1="29.64" y1="4" x2="39.54" y2="-16.2" stroke="#000" stroke-width="2"/><text class="ln" x="41.63" y="0">d</text><text class="ln" x="53.66" y="0">(</text><text class="ln" x="62.11" y="0">r</text><line x1="71.35" y1="4" x2="81.25" y2="-16.2" stroke="#000" stroke-width="2"/><text class="ln" x="83.33" y="0">r</text><text class="lsub" x="91.78" y="5.4">v</text><text class="lsub" x="99.95" y="5.4">i</text><text class="lsub" x="104.79" y="5.4">r</text><text class="ln" x="110.74" y="0">)</text></g>
<g transform="translate(16.7,496.2) rotate(-90)"><text class="ln" x="0" y="0">d</text><text class="ln" x="11.72" y="0">N</text><line x1="29.02" y1="4" x2="38.92" y2="-16.2" stroke="#000" stroke-width="2"/><text class="ln" x="40.69" y="0">d</text><text class="ln" x="52.41" y="0">(</text><text class="ln" x="60.54" y="0">z</text><text class="lsub" x="71.05" y="5.4">a</text><text class="lsub" x="77.72" y="5.4">c</text><text class="lsub" x="84.4" y="5.4">c</text><text class="ln" x="92.04" y="0">)</text></g>
<g transform="translate(347.6,528) rotate(-90)"><text class="ln" x="0" y="0">d</text><text class="ln" x="11.58" y="0">N</text><line x1="28.73" y1="4" x2="38.63" y2="-16.2" stroke="#000" stroke-width="2"/><text class="ln" x="40.25" y="0">d</text><text class="ln" x="51.83" y="0">l</text><text class="ln" x="58.63" y="0">o</text><text class="ln" x="70.21" y="0">g</text><text class="ln" x="81.78" y="0">[</text><text class="ln" x="89.77" y="0">m</text><line x1="108.12" y1="4" x2="118.02" y2="-16.2" stroke="#000" stroke-width="2"/><text class="ln" x="119.64" y="0">m</text><text class="lsub" x="137.19" y="5.4">a</text><text class="lsub" x="143.87" y="5.4">c</text><text class="lsub" x="150.54" y="5.4">c</text><text class="ln" x="158.04" y="0">]</text></g>
<g transform="translate(681.1,504.4) rotate(-90)"><text class="ln" x="0" y="0">d</text><text class="ln" x="11.6" y="0">N</text><line x1="28.78" y1="4" x2="38.68" y2="-16.2" stroke="#000" stroke-width="2"/><text class="ln" x="40.33" y="0">d</text><text class="ln" x="51.93" y="0">(</text><text class="lb" transform="translate(59.94,0) scale(0.72,1)">K</text><line x1="73.63" y1="4" x2="83.53" y2="-16.2" stroke="#000" stroke-width="2"/><text class="ln" x="85.18" y="0">|</text><text class="lb" transform="translate(90.33,0) scale(0.6,1)">W</text><text class="ln" x="104.09" y="0">|</text><text class="ln" x="109.24" y="0">)</text></g>
</svg></body></html>
